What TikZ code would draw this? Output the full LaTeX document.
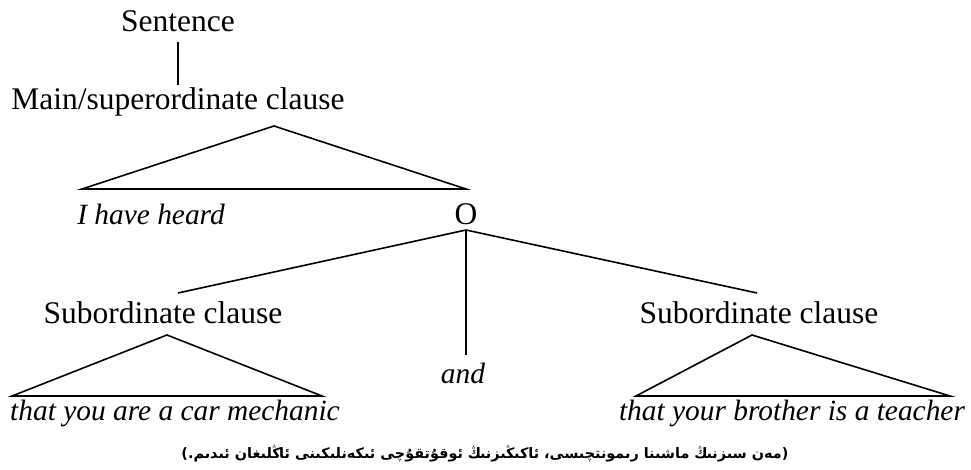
\documentclass[tikz,border=0pt]{standalone}
\usepackage{fontspec}
\setmainfont{Liberation Serif}
\newfontfamily\uyghurfont[Script=Arabic]{DejaVu Sans}
\TeXXeTstate=1

\begin{document}
\begin{tikzpicture}[x=1pt,y=-1pt,line width=1.6pt,line join=miter,
  word/.style={inner sep=0pt,anchor=base,font=\fontsize{31.5}{36}\selectfont},
  gloss/.style={word,font=\fontsize{29.4}{34}\selectfont\itshape}]
\useasboundingbox (0,0) rectangle (971,470);
% Nodes
\node[word] (sentence) at (178,32) {Sentence};
\node[word] (main) at (178,110) {Main/superordinate clause};
\node[gloss] (heard) at (151,225) {I have heard};
\node[word] (o) at (466,225) {O};
\node[word] (subl) at (163,323) {Subordinate clause};
\node[word] (subr) at (759,323) {Subordinate clause};
\node[gloss] (and) at (463,383) {and};
\node[gloss] (mechanic) at (175,420) {that you are a car mechanic};
\node[gloss] (teacher) at (792,420) {that your brother is a teacher};
\node[inner sep=0pt,anchor=base,font=\fontsize{14.4}{17}\selectfont\uyghurfont\bfseries] (uyghur) at (485,458)
  {\beginR(مەن سىزنىڭ ماشىنا رىمونتچىسى، ئاكىڭىزنىڭ ئوقۇتقۇچى ئىكەنلىكىنى ئاڭلىغان ئىدىم.)\endR};
% Line ends
\coordinate (sentbot) at (178,42);
\coordinate (maintop) at (178,85);
\coordinate (ojoin) at (466,230);
\coordinate (sublend) at (178,293);
\coordinate (subrend) at (757,293);
\coordinate (andtop) at (466,355);
% Triangles
\coordinate (mainapex) at (274,126);
\coordinate (mainleft) at (82,189);
\coordinate (mainright) at (466,189);
\coordinate (lapex) at (167,335);
\coordinate (lleft) at (12,396);
\coordinate (lright) at (322,396);
\coordinate (rapex) at (752,335);
\coordinate (rleft) at (636,396);
\coordinate (rright) at (950,396);
% Edges
\draw (sentbot) -- (maintop);
\draw (mainapex) -- (mainleft) -- (mainright) -- cycle;
\draw (ojoin) -- (sublend);
\draw (ojoin) -- (andtop);
\draw (ojoin) -- (subrend);
\draw (lapex) -- (lleft) -- (lright) -- cycle;
\draw (rapex) -- (rleft) -- (rright) -- cycle;
\end{tikzpicture}
\end{document}
